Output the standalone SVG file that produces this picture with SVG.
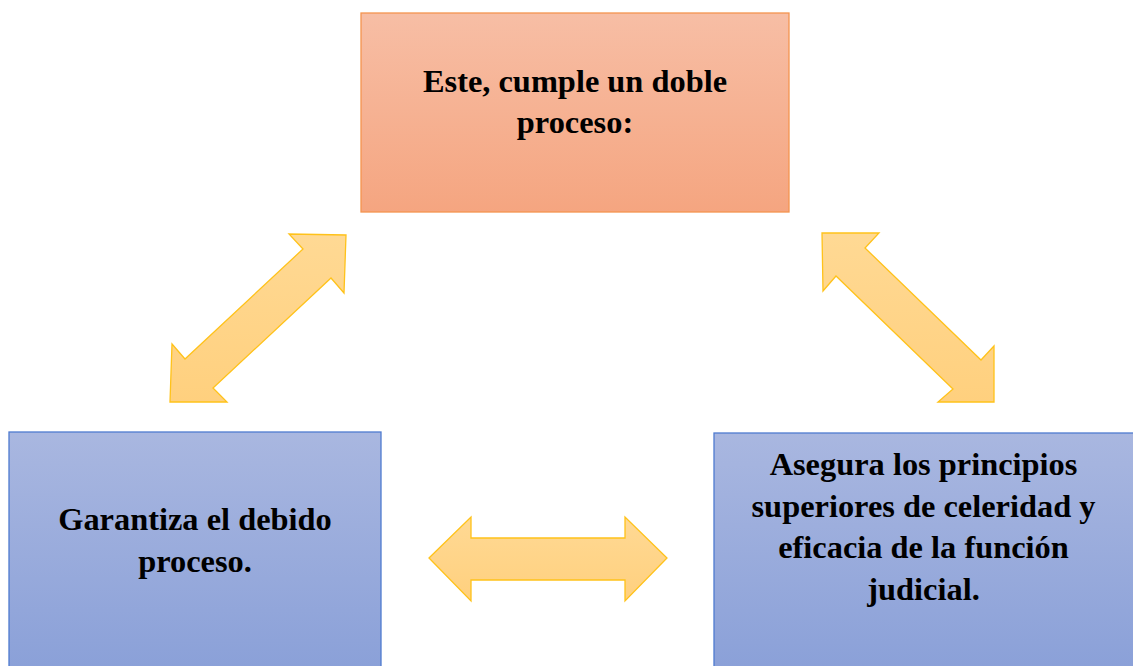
<svg xmlns="http://www.w3.org/2000/svg" width="1133" height="666" viewBox="0 0 1133 666">
<defs>
<linearGradient id="gOrange" x1="0" y1="0" x2="0" y2="1">
<stop offset="0" stop-color="#F7BEA5"/>
<stop offset="1" stop-color="#F5A580"/>
</linearGradient>
<linearGradient id="gBlue" x1="0" y1="0" x2="0" y2="1">
<stop offset="0" stop-color="#A9B7E0"/>
<stop offset="1" stop-color="#8AA0D8"/>
</linearGradient>
<linearGradient id="gYellow" x1="0" y1="0" x2="0" y2="1">
<stop offset="0" stop-color="#FFD994"/>
<stop offset="1" stop-color="#FFD07E"/>
</linearGradient>
<style>
.orange{fill:url(#gOrange);stroke:#F4944F;stroke-width:1.3}
.blue{fill:url(#gBlue);stroke:#4F7BD0;stroke-width:1.3}
.arrow{fill:url(#gYellow);stroke:#FFC21A;stroke-width:1.3;stroke-linejoin:miter}
.t{font-family:"Liberation Serif","Times New Roman",serif;font-weight:bold;font-size:32.4px;fill:#000;text-anchor:middle}
</style>
</defs>
<rect width="1133" height="666" fill="#FFFFFF"/>
<g id="node-top">
<rect class="orange" x="361" y="13" width="428" height="199"/>
<text class="t" x="575" y="92">Este, cumple un doble</text>
<text class="t" x="575" y="133">proceso:</text>
</g>
<g id="node-left">
<rect class="blue" x="9" y="432" width="372" height="240"/>
<text class="t" x="195" y="530">Garantiza el debido</text>
<text class="t" x="195" y="572">proceso.</text>
</g>
<g id="node-right">
<rect class="blue" x="714" y="433" width="425" height="240"/>
<text class="t" x="923.5" y="475">Asegura los principios</text>
<text class="t" x="923.5" y="517">superiores de celeridad y</text>
<text class="t" x="923.5" y="558">eficacia de la función</text>
<text class="t" x="923.5" y="600">judicial.</text>
</g>
<g id="connectors">
<polygon class="arrow" points="346,235 344,293 331,278 213,388 227,402 170,402 172,344 185,359 303,249 289,234"/>
<polygon class="arrow" points="822,233 879,233 865,248 981,360 994,346 994,402 938,402 953,389 836,276 823,291"/>
<polygon class="arrow" points="429,558 471,517 471,538 625,538 625,517 667,558 625,601 625,580 471,580 471,601"/>
</g>
</svg>
